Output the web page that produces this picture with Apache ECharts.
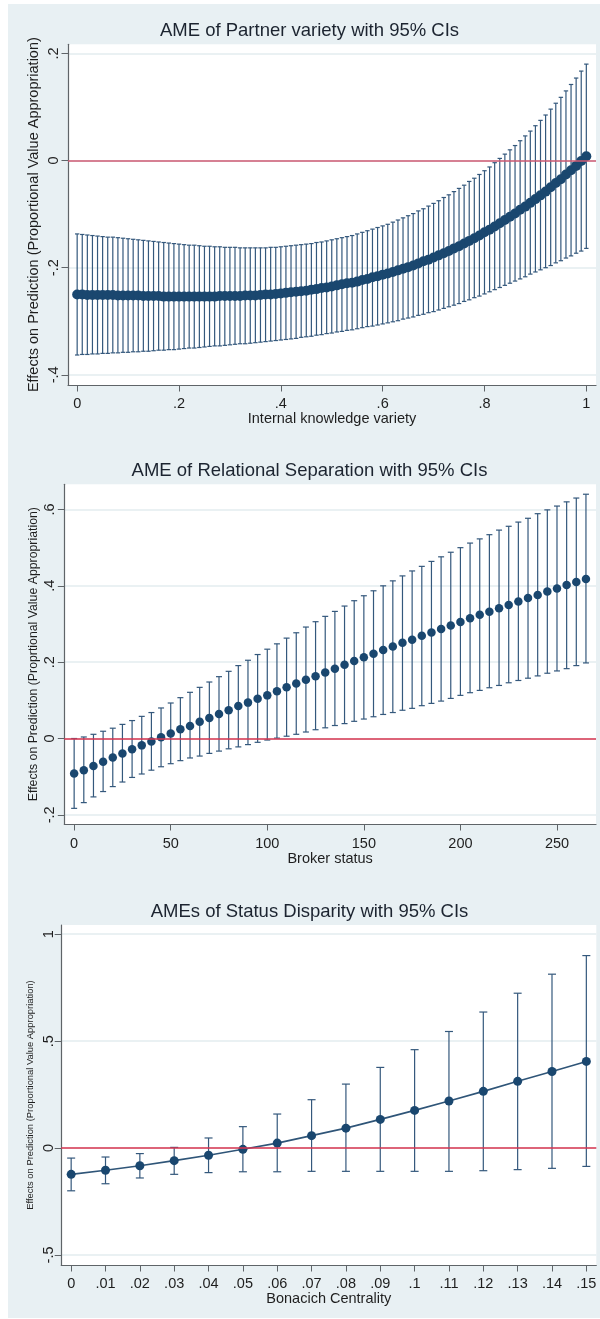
<!DOCTYPE html>
<html><head><meta charset="utf-8">
<script src="https://cdn.jsdelivr.net/npm/echarts@6/dist/echarts.min.js"></script>
<style>html,body{margin:0;padding:0;background:#fff}#c{width:600px;height:1319px}</style>
</head><body><div id="c"></div>
<script>
// ---------- Panel 1: AME of Partner variety ----------
const p1Title = 'AME of Partner variety with 95% CIs';
const p1XName = 'Internal knowledge variety';
const p1YName = 'Effects on Prediction (Proportional Value Appropriation)';
const p1XTicks = [0, 0.2, 0.4, 0.6, 0.8, 1];
const p1YTicks = [-0.4, -0.2, 0, 0.2];
const p1X = [0,0.01,0.02,0.03,0.04,0.05,0.06,0.07,0.08,0.09,0.1,0.11,0.12,0.13,0.14,0.15,0.16,0.17,0.18,0.19,0.2,0.21,0.22,0.23,0.24,0.25,0.26,0.27,0.28,0.29,0.3,0.31,0.32,0.33,0.34,0.35,0.36,0.37,0.38,0.39,0.4,0.41,0.42,0.43,0.44,0.45,0.46,0.47,0.48,0.49,0.5,0.51,0.52,0.53,0.54,0.55,0.56,0.57,0.58,0.59,0.6,0.61,0.62,0.63,0.64,0.65,0.66,0.67,0.68,0.69,0.7,0.71,0.72,0.73,0.74,0.75,0.76,0.77,0.78,0.79,0.8,0.81,0.82,0.83,0.84,0.85,0.86,0.87,0.88,0.89,0.9,0.91,0.92,0.93,0.94,0.95,0.96,0.97,0.98,0.99,1];
const p1Est = [-0.250,-0.250,-0.251,-0.251,-0.251,-0.251,-0.251,-0.251,-0.252,-0.252,-0.252,
 -0.252,-0.252,-0.253,-0.253,-0.253,-0.253,-0.254,-0.254,-0.254,-0.254,
 -0.254,-0.254,-0.254,-0.254,-0.254,-0.254,-0.254,-0.253,-0.253,-0.253,
 -0.253,-0.253,-0.252,-0.252,-0.252,-0.251,-0.250,-0.250,-0.249,-0.248,
 -0.247,-0.246,-0.245,-0.244,-0.243,-0.241,-0.240,-0.238,-0.237,-0.235,
 -0.233,-0.231,-0.229,-0.228,-0.226,-0.223,-0.221,-0.218,-0.216,-0.213,
 -0.211,-0.208,-0.205,-0.202,-0.199,-0.196,-0.192,-0.188,-0.185,-0.181,
 -0.177,-0.173,-0.169,-0.164,-0.160,-0.155,-0.150,-0.145,-0.140,-0.134,
 -0.129,-0.123,-0.117,-0.111,-0.105,-0.099,-0.092,-0.086,-0.079,-0.072,
 -0.065,-0.058,-0.050,-0.042,-0.035,-0.026,-0.018,-0.010,-0.001,0.008];
const p1Hi = [-0.137,-0.138,-0.139,-0.140,-0.141,-0.142,-0.143,-0.143,-0.144,-0.145,-0.146,
 -0.147,-0.148,-0.149,-0.150,-0.151,-0.152,-0.153,-0.154,-0.155,-0.156,
 -0.157,-0.158,-0.158,-0.159,-0.160,-0.160,-0.161,-0.161,-0.162,-0.162,
 -0.162,-0.163,-0.163,-0.163,-0.163,-0.163,-0.163,-0.162,-0.162,-0.161,
 -0.160,-0.159,-0.158,-0.157,-0.156,-0.155,-0.153,-0.152,-0.150,-0.148,
 -0.146,-0.144,-0.142,-0.140,-0.137,-0.134,-0.131,-0.128,-0.125,-0.122,
 -0.119,-0.115,-0.111,-0.107,-0.103,-0.099,-0.094,-0.090,-0.085,-0.080,
 -0.075,-0.069,-0.064,-0.058,-0.052,-0.046,-0.039,-0.033,-0.026,-0.019,
 -0.012,-0.004,0.004,0.012,0.020,0.028,0.037,0.046,0.055,0.065,
 0.075,0.085,0.096,0.107,0.118,0.130,0.142,0.154,0.167,0.180];
const p1Lo = [-0.363,-0.362,-0.362,-0.361,-0.361,-0.360,-0.360,-0.359,-0.359,-0.358,-0.358,
 -0.357,-0.357,-0.356,-0.356,-0.355,-0.354,-0.354,-0.353,-0.353,-0.352,
 -0.351,-0.350,-0.350,-0.349,-0.348,-0.347,-0.346,-0.346,-0.345,-0.344,
 -0.343,-0.342,-0.342,-0.341,-0.340,-0.339,-0.338,-0.337,-0.336,-0.335,
 -0.334,-0.333,-0.332,-0.330,-0.329,-0.328,-0.326,-0.325,-0.323,-0.322,
 -0.320,-0.319,-0.317,-0.316,-0.314,-0.312,-0.310,-0.309,-0.307,-0.305,
 -0.303,-0.301,-0.299,-0.296,-0.294,-0.292,-0.289,-0.287,-0.284,-0.282,
 -0.279,-0.276,-0.273,-0.270,-0.267,-0.263,-0.260,-0.256,-0.253,-0.249,
 -0.245,-0.241,-0.237,-0.233,-0.229,-0.225,-0.221,-0.217,-0.212,-0.208,
 -0.204,-0.200,-0.196,-0.191,-0.187,-0.182,-0.178,-0.173,-0.169,-0.164];

// ---------- Panel 2: AME of Relational Separation ----------
const p2Title = 'AME of Relational Separation with 95% CIs';
const p2XName = 'Broker status';
const p2YName = 'Effects on Prediction (Proprtional Value Appropriation)';
const p2XTicks = [0, 50, 100, 150, 200, 250];
const p2YTicks = [-0.2, 0, 0.2, 0.4, 0.6];
const p2X = [0,5,10,15,20,25,30,35,40,45,50,55,60,65,70,75,80,85,90,95,100,105,110,115,120,125,130,135,140,145,150,155,160,165,170,175,180,185,190,195,200,205,210,215,220,225,230,235,240,245,250,255,260,265];
const p2Est = [-0.092,-0.083,-0.072,-0.061,-0.050,-0.039,-0.028,-0.018,-0.008,0.003,0.013,0.024,0.033,0.044,0.054,0.064,0.074,0.085,0.094,0.104,0.113,0.124,0.134,0.144,0.154,0.163,0.173,0.183,0.193,0.203,0.213,0.222,0.232,0.241,0.251,0.259,0.269,0.278,0.287,0.296,0.305,0.315,0.324,0.332,0.341,0.350,0.359,0.368,0.376,0.385,0.393,0.402,0.410,0.418];
const p2Hi = [0.000,0.004,0.011,0.019,0.027,0.037,0.047,0.058,0.068,0.080,0.093,0.107,0.121,0.134,0.148,0.162,0.176,0.191,0.205,0.220,0.234,0.248,0.263,0.277,0.292,0.306,0.320,0.333,0.347,0.361,0.374,0.387,0.400,0.413,0.426,0.439,0.451,0.464,0.476,0.488,0.500,0.512,0.523,0.534,0.546,0.556,0.567,0.577,0.589,0.599,0.609,0.620,0.630,0.640];
const p2Lo = [-0.183,-0.168,-0.153,-0.139,-0.126,-0.114,-0.102,-0.093,-0.083,-0.074,-0.066,-0.058,-0.051,-0.046,-0.039,-0.033,-0.027,-0.022,-0.016,-0.010,-0.004,0.001,0.006,0.011,0.017,0.023,0.028,0.034,0.039,0.045,0.051,0.057,0.063,0.068,0.074,0.079,0.086,0.092,0.098,0.105,0.113,0.120,0.126,0.133,0.139,0.146,0.152,0.158,0.164,0.171,0.177,0.183,0.191,0.198];

// ---------- Panel 3: AMEs of Status Disparity ----------
const p3Title = 'AMEs of Status Disparity with 95% CIs';
const p3XName = 'Bonacich Centrality';
const p3YName = 'Effects on Prediction (Proportional Value Appropriation)';
const p3XTicks = [0,0.01,0.02,0.03,0.04,0.05,0.06,0.07,0.08,0.09,0.1,0.11,0.12,0.13,0.14,0.15];
const p3YTicks = [-0.5, 0, 0.5, 1];
const p3X = [0,0.01,0.02,0.03,0.04,0.05,0.06,0.07,0.08,0.09,0.1,0.11,0.12,0.13,0.14,0.15];
const p3Est = [-0.123,-0.104,-0.083,-0.059,-0.034,-0.006,0.023,0.058,0.093,0.134,0.176,0.220,0.265,0.312,0.358,0.405];
const p3Hi = [-0.047,-0.042,-0.026,0.003,0.047,0.100,0.159,0.226,0.299,0.377,0.460,0.545,0.636,0.724,0.813,0.900];
const p3Lo = [-0.200,-0.167,-0.140,-0.123,-0.115,-0.111,-0.111,-0.109,-0.109,-0.109,-0.109,-0.109,-0.106,-0.101,-0.095,-0.086];

// ---------- styling ----------
const FONT = "'Liberation Sans', Arial, sans-serif";
const NAVY = '#1a476f';
const BAR = '#34587c';
const AXIS = '#5f6468';
const TXT = '#1e1e1e';
const GRIDLINE = '#e3ecef';

function stataFmt(v) {
  const r = Math.round(v * 1000) / 1000;
  return String(r).replace(/^(-?)0\./, '$1.');
}

const panels = [
  {title: p1Title, ty: 31.3, grid: {left: 68, top: 44.3, width: 528, height: 340.7},
   xr: [-0.018, 1.019], yr: [-0.419, 0.217], xt: p1XTicks, yt: p1YTicks,
   xn: p1XName, yn: p1YName, ynSize: 14.5, ynGap: 27, xnGap: 26, xlm: 11, ylm: 7,
   x: p1X, est: p1Est, lo: p1Lo, hi: p1Hi, cap: 2.2, msize: 10, zero: '#cf5a73', line: false},
  {title: p2Title, ty: 471.3, grid: {left: 64.3, top: 484.3, width: 531.7, height: 339.7},
   xr: [-5.1, 270.2], yr: [-0.224, 0.666], xt: p2XTicks, yt: p2YTicks,
   xn: p2XName, yn: p2YName, ynSize: 12.3, ynGap: 24.5, xnGap: 27, xlm: 12, ylm: 7,
   x: p2X, est: p2Est, lo: p2Lo, hi: p2Hi, cap: 3, msize: 8.5, zero: '#d93550', line: false},
  {title: p3Title, ty: 912, grid: {left: 61.2, top: 925, width: 535.1, height: 340},
   xr: [-0.0029, 0.1529], yr: [-0.547, 1.043], xt: p3XTicks, yt: p3YTicks,
   xn: p3XName, yn: p3YName, ynSize: 9.4, ynGap: 26, xnGap: 26, xlm: 11, ylm: 5,
   x: p3X, est: p3Est, lo: p3Lo, hi: p3Hi, cap: 4, msize: 9, zero: '#d93550', line: true}
];

const grids = [], xAxes = [], yAxes = [], series = [], graphics = [];
graphics.push({type: 'rect', z: -10, silent: true, shape: {x: 8, y: 4, width: 592, height: 1314}, style: {fill: '#e8f0f3'}});

panels.forEach((p, i) => {
  grids.push(Object.assign({show: true, backgroundColor: '#ffffff', borderWidth: 0}, p.grid));
  graphics.push({type: 'text', x: 309.5, y: p.ty, silent: true,
    style: {text: p.title, fill: '#1c2430', font: '18.5px ' + FONT, align: 'center', verticalAlign: 'middle', textAlign: 'center', textVerticalAlign: 'middle'}});
  xAxes.push({
    type: 'value', gridIndex: i, min: p.xr[0], max: p.xr[1],
    axisLine: {show: true, onZero: false, lineStyle: {color: AXIS, width: 1.2}},
    axisTick: {show: true, length: 6.5, customValues: p.xt, lineStyle: {color: AXIS, width: 1}},
    axisLabel: {customValues: p.xt, formatter: stataFmt, fontSize: 14.5, fontFamily: FONT, color: TXT, margin: p.xlm},
    splitLine: {show: false},
    name: p.xn, nameLocation: 'middle', nameGap: p.xnGap, nameMoveOverlap: false,
    nameTextStyle: {fontSize: 14.5, fontFamily: FONT, color: TXT}
  });
  yAxes.push({
    type: 'value', gridIndex: i, min: p.yr[0], max: p.yr[1],
    axisLine: {show: true, onZero: false, lineStyle: {color: AXIS, width: 1.2}},
    axisTick: {show: true, length: 6.5, customValues: p.yt, lineStyle: {color: AXIS, width: 1}},
    axisLabel: {customValues: p.yt, formatter: stataFmt, rotate: 90, fontSize: 14.5, fontFamily: FONT, color: TXT, margin: p.ylm},
    splitLine: {show: true, lineStyle: {color: GRIDLINE, width: 1.5}},
    name: p.yn, nameLocation: 'middle', nameRotate: 90, nameGap: p.ynGap, nameMoveOverlap: false,
    nameTextStyle: {fontSize: p.ynSize, fontFamily: FONT, color: TXT}
  });
  // zero reference line
  series.push({type: 'line', xAxisIndex: i, yAxisIndex: i, data: [], z: 1, silent: true,
    markLine: {silent: true, symbol: 'none', animation: false, label: {show: false},
      lineStyle: {color: p.zero, width: 1.6, type: 'solid'}, data: [{yAxis: 0}]}});
  // confidence interval bars
  const cap = p.cap;
  series.push({
    type: 'custom', xAxisIndex: i, yAxisIndex: i, z: 2, silent: true,
    data: p.x.map((x, k) => [x, p.lo[k], p.hi[k]]),
    encode: {x: 0, y: [1, 2]},
    renderItem: function (params, api) {
      const xv = api.value(0);
      const a = api.coord([xv, api.value(1)]);
      const b = api.coord([xv, api.value(2)]);
      const st = {stroke: BAR, lineWidth: 1.2};
      return {type: 'group', children: [
        {type: 'line', shape: {x1: a[0], y1: a[1], x2: b[0], y2: b[1]}, style: st},
        {type: 'line', shape: {x1: a[0] - cap, y1: a[1], x2: a[0] + cap, y2: a[1]}, style: st},
        {type: 'line', shape: {x1: b[0] - cap, y1: b[1], x2: b[0] + cap, y2: b[1]}, style: st}
      ]};
    }
  });
  // point estimates
  series.push({
    type: 'line', xAxisIndex: i, yAxisIndex: i, z: 3, silent: true,
    data: p.x.map((x, k) => [x, p.est[k]]),
    symbol: 'circle', symbolSize: p.msize, showSymbol: true,
    itemStyle: {color: NAVY},
    lineStyle: p.line ? {color: '#2f5578', width: 1.6} : {width: 0, opacity: 0}
  });
});

const chart = echarts.init(document.getElementById('c'), null, {renderer: 'canvas'});
chart.setOption({
  animation: false,
  backgroundColor: '#ffffff',
  grid: grids, xAxis: xAxes, yAxis: yAxes, series: series, graphic: graphics
});
</script>
</body></html>
